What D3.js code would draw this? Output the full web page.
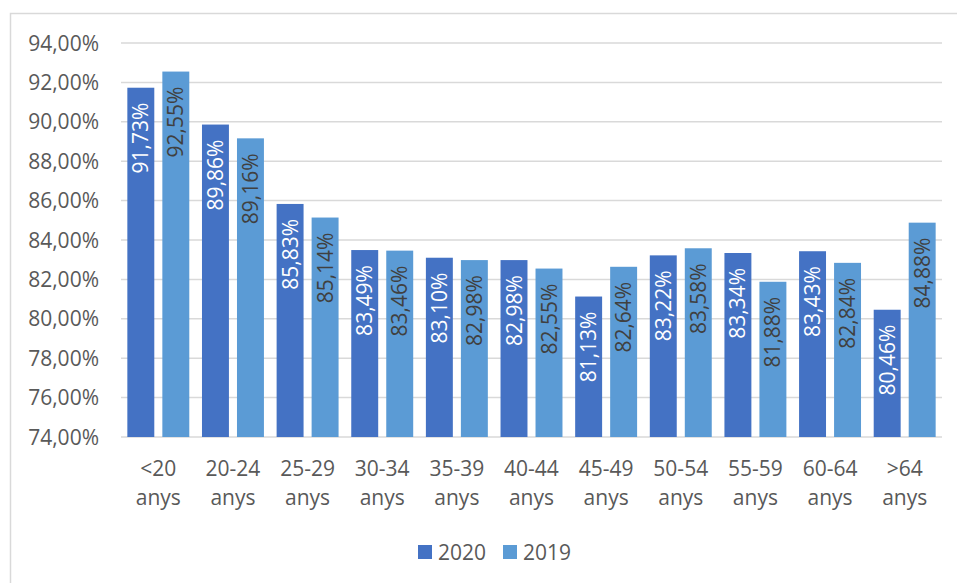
<!DOCTYPE html>
<meta charset="utf-8">
<style>
  body { margin: 0; background: #fff; }
  text { font-family: "Open Sans", sans-serif; }
</style>
<body>
<script src="https://d3js.org/d3.v7.min.js"></script>
<script>

var categories = ["<20 anys", "20-24 anys", "25-29 anys", "30-34 anys", "35-39 anys", "40-44 anys",
                  "45-49 anys", "50-54 anys", "55-59 anys", "60-64 anys", ">64 anys"];
var series = ["2020", "2019"];
var values2020 = [91.73, 89.86, 85.83, 83.49, 83.10, 82.98, 81.13, 83.22, 83.34, 83.43, 80.46];
var values2019 = [92.55, 89.16, 85.14, 83.46, 82.98, 82.55, 82.64, 83.58, 81.88, 82.84, 84.88];
var yTicks = [74, 76, 78, 80, 82, 84, 86, 88, 90, 92, 94];

var width = 957,
    height = 583,
    colors = {"2020": "#4472C4", "2019": "#5B9BD5"},
    labelColors = {"2020": "#ffffff", "2019": "#404040"},
    fontSize = 21;

var fmt = function(v) { return v.toFixed(2).replace(".", ",") + "%"; };

var svg = d3.select("body")
            .append("svg")
            .attr("width", width)
            .attr("height", height);

// chart frame
svg.append("rect")
  .attr("x", 10.5).attr("y", 13.5)
  .attr("width", 980).attr("height", 620)
  .attr("fill", "#fff")
  .attr("stroke", "#d9d9d9")
  .attr("stroke-width", 1.5);

var y = d3.scaleLinear()
  .domain([74, 94])
  .range([437, 43]);

var x0 = d3.scaleBand()
  .domain(categories)
  .range([121, 942])
  .paddingInner(0.17)
  .paddingOuter(0.085);

var x1 = d3.scaleBand()
  .domain(series)
  .range([0, x0.bandwidth()])
  .paddingInner(0.23);

// gridlines
svg.append("g")
  .selectAll("line")
  .data(yTicks)
  .join("line")
  .attr("x1", 121).attr("x2", 942)
  .attr("y1", function(d) { return y(d); })
  .attr("y2", function(d) { return y(d); })
  .attr("stroke", "#d9d9d9")
  .attr("stroke-width", 1.5);

// y labels
svg.append("g")
  .selectAll("text")
  .data(yTicks)
  .join("text")
  .attr("x", 99)
  .attr("y", function(d) { return y(d); })
  .attr("dy", "0.36em")
  .attr("text-anchor", "end")
  .attr("fill", "#595959")
  .style("font-size", fontSize + "px")
  .text(function(d) { return fmt(d); });

var rows = categories.map(function(c, i) {
  return {cat: c, vals: [{s: "2020", v: values2020[i]}, {s: "2019", v: values2019[i]}]};
});

var groups = svg.append("g")
  .selectAll("g")
  .data(rows)
  .join("g")
  .attr("transform", function(d) { return "translate(" + x0(d.cat) + ",0)"; });

groups.selectAll("rect")
  .data(function(d) { return d.vals; })
  .join("rect")
  .attr("x", function(d) { return x1(d.s); })
  .attr("y", function(d) { return y(d.v); })
  .attr("width", x1.bandwidth())
  .attr("height", function(d) { return y(74) - y(d.v); })
  .attr("fill", function(d) { return colors[d.s]; });

groups.selectAll("text")
  .data(function(d) { return d.vals; })
  .join("text")
  .attr("transform", function(d) {
    return "translate(" + (x1(d.s) + x1.bandwidth() / 2) + "," + (y(d.v) + 15) + ") rotate(-90)";
  })
  .attr("text-anchor", "end")
  .attr("dy", "0.36em")
  .attr("fill", function(d) { return labelColors[d.s]; })
  .style("font-size", fontSize + "px")
  .text(function(d) { return fmt(d.v); });

// x labels, two lines
var xl = svg.append("g")
  .selectAll("text")
  .data(categories)
  .join("text")
  .attr("text-anchor", "middle")
  .attr("fill", "#595959")
  .style("font-size", fontSize + "px");

xl.each(function(d) {
  var parts = d.split(" ");
  var cx = x0(d) + x0.bandwidth() / 2;
  d3.select(this).selectAll("tspan")
    .data(parts)
    .join("tspan")
    .attr("x", cx)
    .attr("y", function(p, i) { return 476 + i * 29; })
    .text(function(p) { return p; });
});

// legend
var legend = svg.append("g");
var legendX = [418, 503];
series.forEach(function(s, i) {
  legend.append("rect")
    .attr("x", legendX[i]).attr("y", 545)
    .attr("width", 14).attr("height", 14)
    .attr("fill", colors[s]);
  legend.append("text")
    .attr("x", legendX[i] + 20).attr("y", 552)
    .attr("dy", "0.36em")
    .attr("fill", "#595959")
    .style("font-size", fontSize + "px")
    .text(s);
});

</script>
</body>
